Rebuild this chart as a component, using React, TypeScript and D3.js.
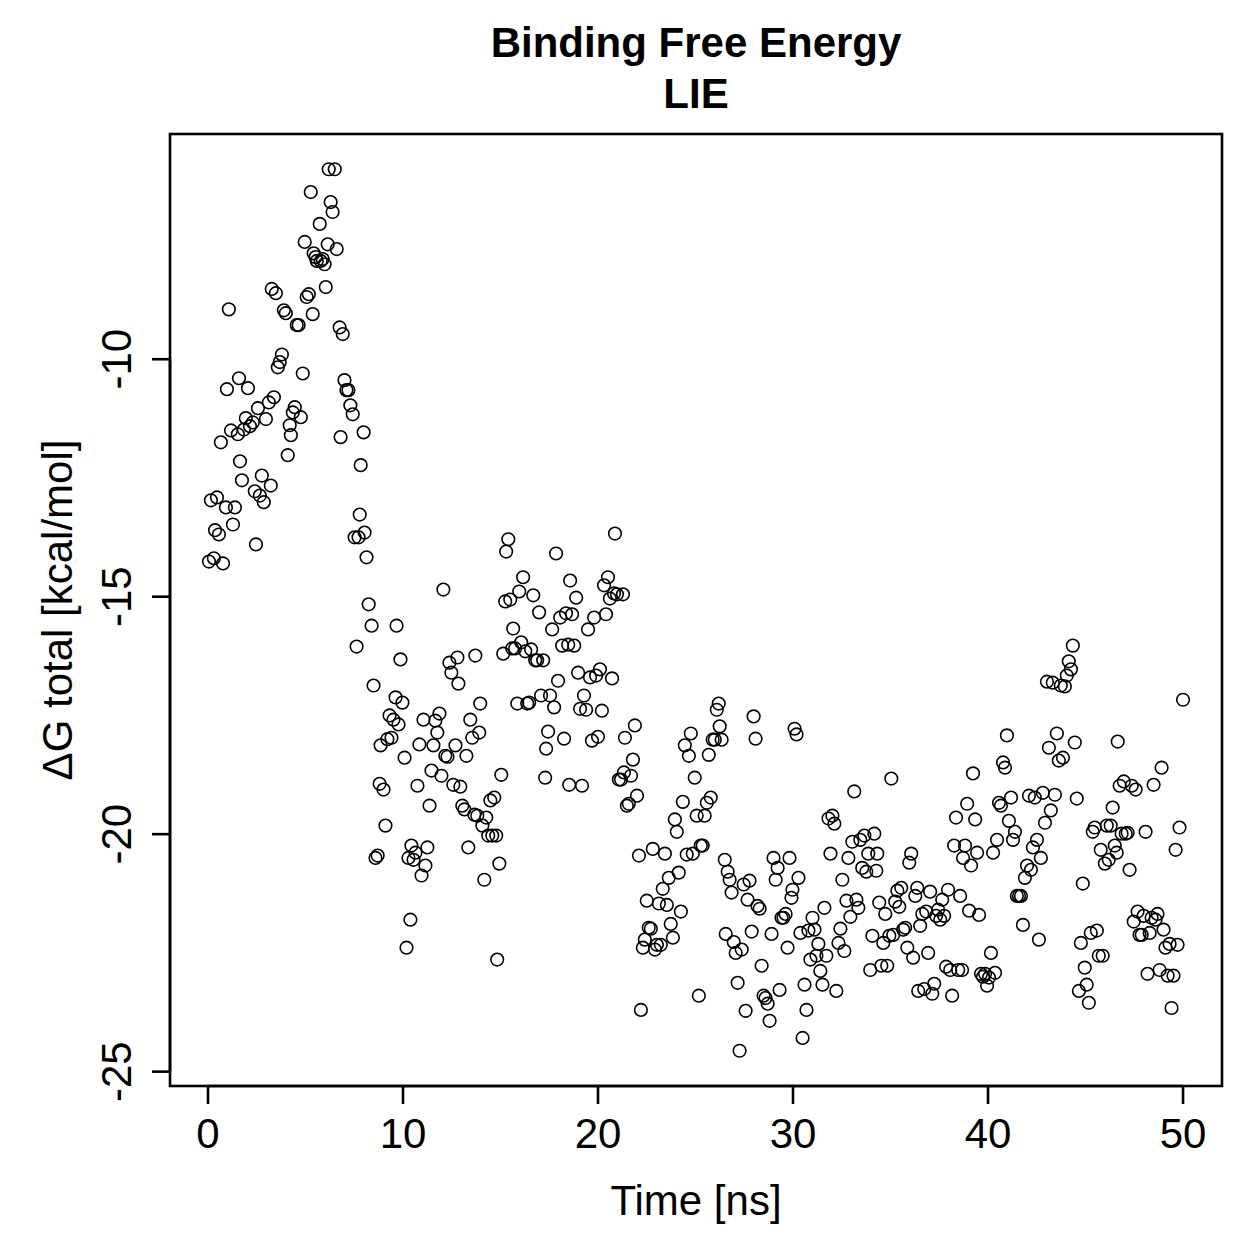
import { useEffect } from 'react';
import * as d3 from 'd3';

// simulation time (ns) and LIE binding free energy (kcal/mol)
const time = [
  0.05, 0.3, 0.15, 0.46, 0.36, 0.56, 0.77, 0.66, 0.92, 0.97, 1.07, 1.18, 1.28, 1.38, 1.53, 1.59, 1.64, 1.74, 1.84, 1.94,
  2.05, 2.15, 2.3, 2.4, 2.46, 2.56, 2.66, 2.76, 2.86, 2.97, 3.12, 3.22, 3.27, 3.38, 3.48, 3.58, 3.68, 3.79, 3.89, 3.99,
  4.09, 4.19, 4.25, 4.35, 4.45, 4.55, 4.65, 4.76, 4.86, 4.96, 5.06, 5.17, 5.27, 5.37, 5.42, 5.52, 5.58, 5.73, 5.78, 5.88,
  5.98, 6.04, 6.14, 6.19, 6.29, 6.39, 6.5, 6.6, 6.75, 6.8, 6.91, 7.0, 7.1, 7.2, 7.3, 7.42, 7.52, 7.62, 7.72, 7.78,
  7.83, 7.98, 8.03, 8.13, 8.24, 8.39, 8.49, 8.59, 8.7, 8.8, 8.85, 9.0, 9.1, 9.2, 9.31, 9.41, 9.51, 9.62, 9.67, 9.77,
  9.87, 9.97, 10.08, 10.18, 10.28, 10.38, 10.43, 10.54, 10.64, 10.74, 10.84, 10.95, 11.05, 11.15, 11.25, 11.36, 11.46, 11.56, 11.66, 11.76,
  11.87, 11.97, 12.07, 12.17, 12.28, 12.38, 12.48, 12.58, 12.69, 12.79, 12.84, 12.94, 13.04, 13.15, 13.25, 13.35, 13.45, 13.55, 13.66, 13.71,
  13.81, 13.91, 13.96, 14.07, 14.17, 14.27, 14.37, 14.48, 14.58, 14.68, 14.78, 14.83, 14.94, 15.04, 15.14, 15.24, 15.29, 15.4, 15.5, 15.6,
  15.65, 15.75, 15.86, 15.96, 16.06, 16.16, 16.27, 16.37, 16.47, 16.57, 16.68, 16.78, 16.88, 16.98, 17.08, 17.19, 17.29, 17.34, 17.44, 17.54,
  17.65, 17.75, 17.85, 17.95, 18.06, 18.16, 18.26, 18.36, 18.47, 18.52, 18.57, 18.67, 18.78, 18.88, 18.98, 19.08, 19.18, 19.28, 19.39, 19.49,
  19.59, 19.69, 19.8, 19.9, 20.0, 20.1, 20.2, 20.31, 20.41, 20.51, 20.61, 20.72, 20.82, 20.87, 20.97, 21.07, 21.18, 21.28, 21.33, 21.38,
  21.48, 21.58, 21.69, 21.79, 21.89, 22.0, 22.1, 22.2, 22.3, 22.4, 22.5, 22.6, 22.71, 22.81, 22.92, 23.02, 23.12, 23.22, 23.32, 23.43,
  23.53, 23.63, 23.73, 23.84, 23.94, 24.04, 24.14, 24.25, 24.35, 24.45, 24.55, 24.66, 24.76, 24.86, 24.96, 25.06, 25.17, 25.27, 25.37, 25.47,
  25.58, 25.68, 25.78, 25.88, 25.99, 26.09, 26.19, 26.24, 26.34, 26.5, 26.55, 26.65, 26.75, 26.85, 26.96, 27.06, 27.16, 27.26, 27.37, 27.47,
  27.57, 27.67, 27.77, 27.88, 27.98, 28.08, 28.18, 28.29, 28.39, 28.49, 28.59, 28.7, 28.8, 28.9, 29.0, 29.11, 29.21, 29.31, 29.41, 29.51,
  29.62, 29.72, 29.82, 29.92, 29.97, 30.08, 30.18, 30.28, 30.38, 30.49, 30.59, 30.69, 30.79, 30.89, 31.0, 31.1, 31.2, 31.3, 31.4, 31.51,
  31.61, 31.71, 31.82, 31.92, 32.02, 32.12, 32.22, 32.33, 32.43, 32.53, 32.63, 32.74, 32.84, 32.94, 33.04, 33.14, 33.25, 33.35, 33.45, 33.55,
  33.66, 33.76, 33.86, 33.96, 34.07, 34.17, 34.27, 34.32, 34.42, 34.53, 34.63, 34.73, 34.83, 34.94, 35.04, 35.14, 35.24, 35.35, 35.45, 35.55,
  35.65, 35.75, 35.86, 35.96, 36.06, 36.16, 36.27, 36.37, 36.42, 36.52, 36.63, 36.73, 36.83, 36.93, 37.03, 37.14, 37.24, 37.34, 37.44, 37.55,
  37.65, 37.75, 37.85, 37.95, 38.06, 38.16, 38.26, 38.36, 38.47, 38.57, 38.67, 38.72, 38.82, 38.93, 39.03, 39.13, 39.23, 39.34, 39.44, 39.54,
  39.64, 39.74, 39.85, 39.95, 40.05, 40.15, 40.26, 40.36, 40.46, 40.56, 40.66, 40.77, 40.87, 40.97, 41.07, 41.18, 41.28, 41.38, 41.48, 41.59,
  41.69, 41.79, 41.89, 42.0, 42.1, 42.2, 42.3, 42.4, 42.51, 42.61, 42.71, 42.81, 42.92, 43.02, 43.12, 43.22, 43.32, 43.43, 43.53, 43.63,
  43.73, 43.84, 43.94, 44.04, 44.14, 44.25, 44.35, 44.45, 44.55, 44.66, 44.76, 44.86, 44.96, 45.06, 45.17, 45.27, 45.37, 45.47, 45.58, 45.68,
  45.78, 45.88, 45.99, 46.09, 46.19, 46.29, 46.39, 46.5, 46.6, 46.65, 46.75, 46.85, 46.96, 47.06, 47.16, 47.26, 47.37, 47.47, 47.57, 47.67,
  47.77, 47.88, 47.98, 48.08, 48.18, 48.29, 48.39, 48.49, 48.59, 48.69, 48.8, 48.9, 49.0, 49.1, 49.21, 49.31, 49.41, 49.51, 49.62, 49.72,
  49.82, 50.0,
];

const dG = [
  -14.26, -14.19, -12.97, -12.91, -13.6, -13.69, -14.3, -11.75, -13.12, -10.63, -8.95, -11.5, -13.48, -13.12, -11.58, -10.4, -12.15, -12.55, -11.48, -11.24,
  -10.61, -11.41, -11.33, -12.78, -13.9, -11.03, -12.87, -12.45, -13.01, -11.26, -10.91, -12.66, -8.52, -10.8, -8.61, -10.17, -10.06, -9.9, -8.97, -9.03,
  -12.02, -11.39, -11.6, -11.12, -11.01, -9.28, -9.28, -11.22, -10.3, -7.53, -8.69, -8.63, -6.48, -9.05, -7.77, -7.85, -7.93, -7.15, -7.93, -7.89,
  -8.0, -8.48, -7.58, -6.0, -6.69, -6.9, -6.0, -7.68, -9.33, -11.64, -9.47, -10.44, -10.65, -10.65, -10.97, -11.16, -13.75, -16.05, -13.75, -13.27,
  -12.23, -11.54, -13.65, -14.17, -15.16, -15.61, -16.87, -20.5, -20.45, -18.94, -18.13, -19.06, -19.82, -18.0, -17.5, -17.97, -17.59, -17.12, -15.61, -17.69,
  -16.32, -17.23, -18.39, -22.39, -20.5, -21.8, -20.24, -20.54, -20.39, -18.98, -18.11, -20.87, -17.59, -20.66, -20.28, -19.4, -18.66, -18.13, -17.61, -17.86,
  -17.46, -18.77, -14.85, -18.35, -18.37, -16.39, -16.6, -18.96, -18.13, -16.28, -16.83, -19.0, -19.4, -19.48, -18.35, -20.28, -17.59, -17.97, -19.59, -16.24,
  -19.61, -17.86, -17.25, -19.82, -20.96, -19.65, -20.03, -19.29, -20.03, -19.23, -20.03, -22.64, -20.62, -18.75, -16.2, -15.1, -14.05, -13.79, -15.06, -16.09,
  -15.67, -16.09, -17.25, -14.89, -15.96, -14.59, -16.15, -17.25, -17.23, -16.11, -14.97, -16.34, -16.34, -15.33, -17.08, -16.34, -18.81, -18.2, -17.84, -17.08,
  -15.69, -17.33, -14.09, -16.77, -15.44, -16.03, -17.99, -15.35, -16.01, -18.96, -14.66, -15.37, -16.03, -15.02, -16.6, -17.36, -18.98, -17.08, -17.38, -15.69,
  -16.7, -18.03, -15.44, -16.66, -17.95, -16.53, -17.4, -14.76, -15.37, -14.59, -15.04, -16.72, -14.93, -13.67, -14.95, -18.85, -18.85, -14.95, -18.7, -17.97,
  -19.4, -19.36, -18.77, -18.43, -17.71, -19.19, -20.45, -23.7, -22.39, -22.22, -21.4, -21.97, -21.99, -20.31, -22.43, -22.33, -21.46, -22.33, -21.15, -20.41,
  -21.49, -20.92, -21.89, -22.18, -19.69, -19.95, -20.81, -21.63, -19.32, -18.13, -20.43, -18.35, -17.88, -20.41, -18.81, -19.61, -23.4, -20.24, -20.24, -19.61,
  -19.34, -18.33, -19.23, -18.01, -18.01, -17.38, -17.25, -17.73, -18.01, -20.54, -22.1, -20.79, -20.96, -21.23, -22.27, -22.5, -23.13, -24.56, -22.43, -21.06,
  -23.72, -21.38, -20.98, -22.05, -17.52, -17.99, -21.51, -21.57, -22.77, -23.4, -23.45, -23.57, -23.93, -22.1, -20.5, -20.96, -20.71, -23.28, -21.76, -21.76,
  -21.68, -22.39, -20.5, -21.34, -21.17, -17.78, -17.9, -20.92, -22.08, -24.29, -23.17, -23.7, -22.03, -22.64, -21.76, -22.01, -22.56, -22.31, -22.88, -23.17,
  -21.55, -22.56, -19.67, -20.41, -19.61, -19.78, -23.3, -22.29, -21.99, -20.96, -22.46, -21.4, -20.5, -21.74, -20.16, -19.1, -21.38, -21.55, -20.12, -20.71,
  -20.03, -20.79, -20.41, -22.86, -22.14, -19.99, -20.77, -20.41, -21.44, -22.77, -22.29, -21.68, -22.77, -22.14, -18.83, -22.12, -21.42, -21.19, -21.53, -21.13,
  -22.01, -21.97, -22.39, -20.6, -20.41, -22.6, -21.3, -21.13, -23.3, -21.93, -21.68, -23.26, -21.63, -22.5, -21.21, -23.36, -23.15, -21.72, -21.59, -21.8,
  -21.38, -21.72, -22.79, -21.17, -22.86, -23.4, -20.24, -19.65, -22.86, -21.3, -22.86, -20.5, -20.24, -19.36, -21.61, -20.66, -18.72, -19.69, -20.39, -21.7,
  -22.94, -23.0, -22.94, -23.19, -23.02, -22.5, -20.39, -22.92, -20.12, -19.34, -19.4, -18.49, -18.6, -17.92, -19.72, -19.23, -20.12, -19.95, -21.3, -21.3,
  -21.3, -21.91, -20.92, -20.66, -19.19, -20.75, -20.28, -19.23, -20.12, -22.22, -20.5, -19.13, -19.76, -16.79, -18.18, -19.5, -16.81, -19.17, -17.88, -18.45,
  -16.87, -18.39, -16.89, -16.66, -16.36, -16.53, -16.03, -18.07, -19.25, -23.3, -22.29, -21.04, -22.81, -23.17, -23.55, -22.08, -19.95, -19.86, -22.03, -22.56,
  -20.33, -22.56, -20.62, -19.82, -20.54, -19.82, -19.44, -20.24, -20.39, -18.05, -18.98, -19.99, -18.89, -19.99, -19.97, -20.75, -18.98, -21.84, -19.06, -21.63,
  -22.12, -22.12, -21.72, -19.95, -22.94, -22.08, -21.76, -18.96, -21.8, -21.68, -22.86, -18.6, -22.01, -22.39, -22.98, -22.31, -23.66, -22.98, -20.33, -22.33,
  -19.86, -17.17,
];

const xTicks = [0, 10, 20, 30, 40, 50];
const yTicks = [-10, -15, -20, -25];

const titleLines = ['Binding Free Energy', 'LIE'];
const xLabel = 'Time [ns]';
const yLabel = '\u0394G total [kcal/mol]';

const W = 1259, H = 1259;
const box = { left: 170, right: 1222, top: 134, bottom: 1086 };
const font = '"Liberation Sans", Arial, Helvetica, sans-serif';
const fs = 42;
const tickLen = 18;

// R-style 4% range expansion
function rExtent(v: number[]): [number, number] {
  const [lo, hi] = d3.extent(v) as [number, number];
  const pad = (hi - lo) * 0.04;
  return [lo - pad, hi + pad];
}

export default function App() {
  useEffect(() => {
    document.body.style.margin = '0';
  }, []);

  const x = d3.scaleLinear().domain(rExtent(time)).range([box.left, box.right]);
  const y = d3.scaleLinear().domain(rExtent(dG)).range([box.bottom, box.top]);
  const cx = (box.left + box.right) / 2;
  const cy = (box.top + box.bottom) / 2;

  return (
    <svg width={W} height={H} style={{ display: 'block', background: '#fff' }} fontFamily={font}>
      <rect x={0} y={0} width={W} height={H} fill="#fff" />
      {titleLines.map((t, i) => (
        <text key={t} x={cx} y={57 + i * 51} textAnchor="middle" fontWeight="bold" fontSize={fs}>{t}</text>
      ))}

      <g fill="none" stroke="#000" strokeWidth={1.6}>
        {time.map((t, i) => (
          <circle key={i} cx={x(t)} cy={y(dG[i])} r={6.3} />
        ))}
      </g>

      <rect x={box.left} y={box.top} width={box.right - box.left} height={box.bottom - box.top}
        fill="none" stroke="#000" strokeWidth={2.6} />

      <g stroke="#000" strokeWidth={2.6}>
        <line x1={x(0)} x2={x(50)} y1={box.bottom} y2={box.bottom} />
        {xTicks.map(t => (
          <line key={t} x1={x(t)} x2={x(t)} y1={box.bottom} y2={box.bottom + tickLen} />
        ))}
        <line x1={box.left} x2={box.left} y1={y(-10)} y2={y(-25)} />
        {yTicks.map(t => (
          <line key={t} x1={box.left} x2={box.left - tickLen} y1={y(t)} y2={y(t)} />
        ))}
      </g>

      {xTicks.map(t => (
        <text key={t} x={x(t)} y={1148} textAnchor="middle" fontSize={fs}>{t}</text>
      ))}
      {yTicks.map(t => (
        <text key={t} transform={`translate(131,${y(t)}) rotate(-90)`} textAnchor="middle" fontSize={fs}>{t}</text>
      ))}

      <text x={cx} y={1215} textAnchor="middle" fontSize={fs}>{xLabel}</text>
      <text transform={`translate(72,${cy}) rotate(-90)`} textAnchor="middle" fontSize={fs}>{yLabel}</text>
    </svg>
  );
}
